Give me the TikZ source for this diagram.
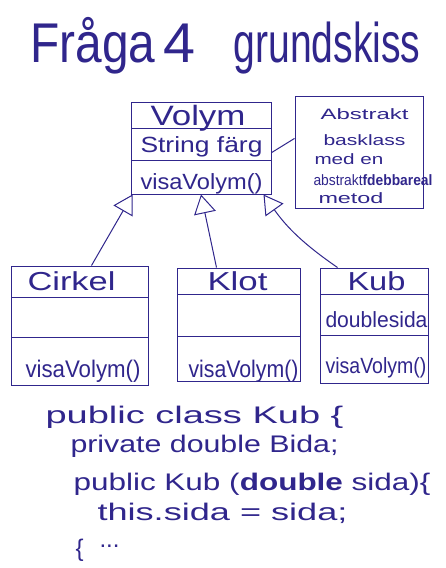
\documentclass[tikz,border=0pt]{standalone}
\usepackage{fontspec}
\setmainfont{Liberation Sans}
\usetikzlibrary{arrows.meta,calc}
\definecolor{ink}{RGB}{48,38,140}
\newcommand\fitw[2]{\resizebox{#1pt}{\height}{#2}}
\tikzset{
  every node/.style={inner sep=0pt, text=ink},
  lbl/.style={anchor=base west},
  box/.style={draw=ink, line width=1pt, rectangle},
  inh/.style={-{Triangle[open,length=19pt,width=22pt,line width=1pt]}},
  wire/.style={draw=ink, line width=1pt},
  codef/.style={lbl,font=\fontsize{24}{27}\selectfont},
  notef/.style={lbl,font=\fontsize{15}{17}\selectfont}
}
\begin{document}
\begin{tikzpicture}[x=1pt,y=-1pt,line width=1pt]
\useasboundingbox[fill=white] (0,0) rectangle (446,568);
% title
\node[lbl,font=\fontsize{56}{62}\selectfont] (t1) at (30,62) {\fitw{125}{Fråga}};
\node[lbl,font=\fontsize{56}{62}\selectfont] (t2) at (163,62) {\fitw{32}{4}};
\node[lbl,font=\fontsize{56}{62}\selectfont] (t3) at (233,62) {\fitw{187}{grundskiss}};
% Volym class
\node[box,minimum width=140pt,minimum height=92pt] (volym) at (201,148) {};
\draw[wire] (131,128) -- (271,128);
\draw[wire] (131,160) -- (271,160);
\node[lbl,font=\fontsize{28}{32}\selectfont] (vname) at (150,125) {\fitw{95}{Volym}};
\node[lbl,font=\fontsize{22}{26}\selectfont] (vattr) at (140,152) {\fitw{122}{String färg}};
\node[lbl,font=\fontsize{22}{26}\selectfont] (vmeth) at (140,189) {\fitw{122}{visaVolym()}};
% note
\node[box,minimum width=128pt,minimum height=112pt] (note) at (359,152) {};
\node[notef] (n1) at (320,119) {\fitw{88}{Abstrakt}};
\node[notef] (n2) at (323,145) {\fitw{82}{basklass}};
\node[notef] (n3) at (314,164) {\fitw{69}{med en}};
\node[notef] (n4) at (313,185) {\fitw{119}{abstrakt\textbf{fdebbareal}}};
\node[notef] (n5) at (318,203) {\fitw{65}{metod}};
\coordinate (nl) at ($(note.north west)!0.38!(note.south west)$);
\coordinate (vr) at ($(volym.north east)!0.55!(volym.south east)$);
\draw[wire] (vr) -- (nl);
% Cirkel
\node[box,minimum width=137pt,minimum height=119pt] (cirkel) at (79.5,325.5) {};
\draw[wire] (11,297) -- (148,297);
\draw[wire] (11,337) -- (148,337);
\node[lbl,font=\fontsize{26}{30}\selectfont] (cname) at (27,290) {\fitw{88}{Cirkel}};
\node[lbl,font=\fontsize{24}{28}\selectfont] (cmeth) at (25,377) {\fitw{115}{visaVolym()}};
% Klot
\node[box,minimum width=123pt,minimum height=113pt] (klot) at (238.5,324.5) {};
\draw[wire] (177,294) -- (300,294);
\draw[wire] (177,336) -- (300,336);
\node[lbl,font=\fontsize{26}{30}\selectfont] (kname) at (207,290) {\fitw{60}{Klot}};
\node[lbl,font=\fontsize{24}{28}\selectfont] (kmeth) at (188,377) {\fitw{110}{visaVolym()}};
% Kub
\node[box,minimum width=108pt,minimum height=115pt] (kub) at (374,325.5) {};
\draw[wire] (320,294) -- (428,294);
\draw[wire] (320,335) -- (428,335);
\node[lbl,font=\fontsize{26}{30}\selectfont] (uname) at (347,290) {\fitw{58}{Kub}};
\node[lbl,font=\fontsize{22}{26}\selectfont] (uattr) at (325,327) {\fitw{102}{doublesida}};
\node[lbl,font=\fontsize{22}{26}\selectfont] (umeth) at (325,373) {\fitw{101}{visaVolym()}};
% inheritance
\coordinate (a1) at ($(volym.south west)+(2,0)$);
\coordinate (a2) at (volym.south);
\coordinate (a3) at ($(volym.south east)+(-8,0)$);
\coordinate (c1) at ($(cirkel.north west)+(81,0)$);
\coordinate (c2) at ($(klot.north west)+(40,0)$);
\coordinate (c3) at ($(kub.north west)+(18,0)$);
\draw[wire,inh] (c1) -- (a1);
\draw[wire,inh] (c2) -- (a2);
\draw[wire,inh] (c3) to[bend left=10] (a3);
% code
\node[codef] (p1) at (45,423) {\fitw{298}{public class Kub \{}};
\node[codef] (p2) at (70,452) {\fitw{268}{private double Bida;}};
\node[codef] (p3) at (73,490) {\fitw{357}{public Kub (\textbf{double} sida)\{}};
\node[codef] (p4) at (97,520) {\fitw{250}{this.sida = sida;}};
\node[codef] (p5) at (75,556) {\{\hspace{16pt}\raisebox{9pt}{...}};
\end{tikzpicture}
\end{document}
